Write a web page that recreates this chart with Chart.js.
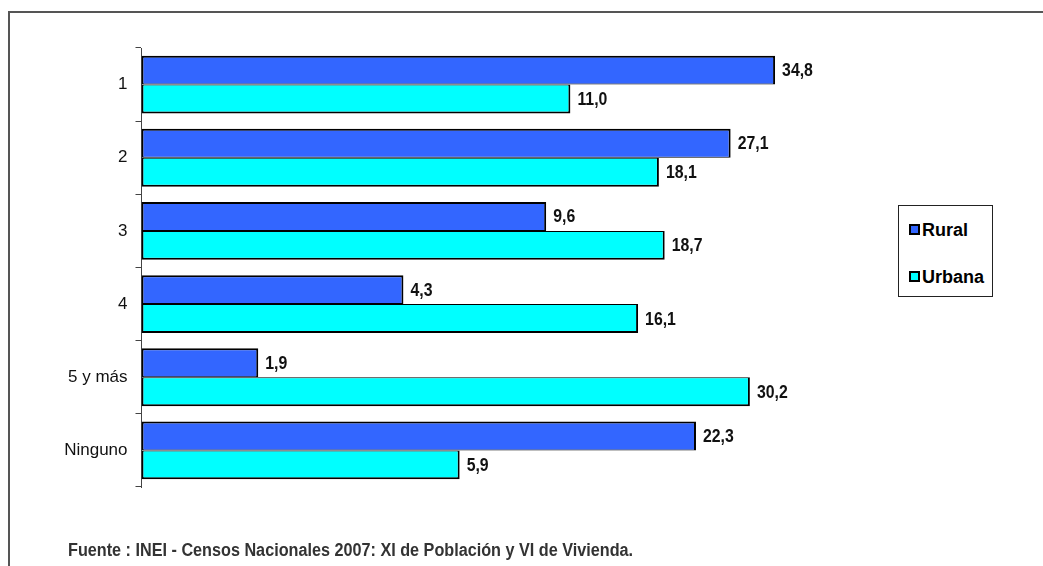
<!DOCTYPE html>
<html><head><meta charset="utf-8">
<script src="https://cdn.jsdelivr.net/npm/chart.js@4.4.1/dist/chart.umd.min.js"></script>
<style>
html,body{margin:0;padding:0;background:#fff;}
#wrap{position:relative;width:1043px;height:566px;overflow:hidden;background:#fff;}
#frame{position:absolute;left:8px;top:11px;width:1100px;height:600px;border-top:2px solid #555;border-left:2px solid #555;}
#c{position:absolute;left:0;top:0;}
#legend{position:absolute;left:898px;top:205px;width:95px;height:92px;border:1px solid #222;box-sizing:border-box;background:#fff;
  font:bold 18px 'Liberation Sans',Arial,sans-serif;color:#000;}
.li{position:absolute;left:10px;height:20px;line-height:20px;white-space:nowrap;}
.mk{display:inline-block;width:7px;height:7px;border:2px solid #000;vertical-align:middle;margin-right:2px;position:relative;top:-2px;}
#src{position:absolute;left:68px;top:540px;font:bold 18px 'Liberation Sans',Arial,sans-serif;color:#333;white-space:nowrap;transform:scaleX(0.9);transform-origin:0 0;}
</style>
</head><body>
<div id="wrap">
  <div id="frame"></div>
  <canvas id="c" width="1043" height="566"></canvas>
  <div id="legend"></div>
  <div id="src">Fuente : INEI - Censos Nacionales 2007: XI de Población y VI de Vivienda.</div>
</div>
<script>
const categories = ['1', '2', '3', '4', '5 y más', 'Ninguno'];
const seriesNames = ['Rural', 'Urbana'];
const rural = [34.8, 27.1, 9.6, 4.3, 1.9, 22.3];
const urbana = [11.0, 18.1, 18.7, 16.1, 30.2, 5.9];
const seriesColors = ['#3366FF', '#00FFFF'];

const valueLabels = {
  id: 'valueLabels',
  afterDatasetsDraw(chart) {
    const ctx = chart.ctx;
    chart.data.datasets.forEach((ds, di) => {
      const meta = chart.getDatasetMeta(di);
      meta.data.forEach((el, i) => {
        const txt = ds.data[i].toFixed(1).replace('.', ',');
        ctx.save();
        ctx.font = "bold 18px 'Liberation Sans',Arial,sans-serif";
        ctx.fillStyle = '#111';
        ctx.textAlign = 'left';
        ctx.textBaseline = 'middle';
        ctx.translate(el.x + 7, el.y + 1);
        ctx.scale(0.88, 1);
        ctx.fillText(txt, 0, 0);
        ctx.restore();
      });
    });
  }
};

new Chart(document.getElementById('c'), {
  type: 'bar',
  data: {
    labels: categories,
    datasets: [
      { label: seriesNames[0], data: rural, backgroundColor: seriesColors[0], borderColor: '#000',
        borderWidth: {top: 2, left: 2, right: 2, bottom: 1}, borderSkipped: false },
      { label: seriesNames[1], data: urbana, backgroundColor: seriesColors[1], borderColor: '#000',
        borderWidth: {top: 1, left: 2, right: 2, bottom: 2}, borderSkipped: false }
    ]
  },
  options: {
    indexAxis: 'y',
    responsive: false,
    animation: false,
    devicePixelRatio: 1,
    layout: { padding: { top: 48, bottom: 79, left: 0, right: 203.5 } },
    datasets: { bar: { categoryPercentage: 0.79, barPercentage: 1.0 } },
    plugins: { legend: { display: false }, tooltip: { enabled: false } },
    scales: {
      x: { type: 'logarithmic', min: 0.985, max: 50, display: false },
      y: {
        type: 'category',
        offset: true,
        grid: { offset: true, drawOnChartArea: false, drawTicks: true, tickLength: 6, color: '#444', lineWidth: 1 },
        border: { display: true, color: '#444', width: 1 },
        ticks: { padding: 8, color: '#111', font: { family: "'Liberation Sans',Arial,sans-serif", size: 17 } },
        afterFit(s) { s.width = 141.5; }
      }
    }
  },
  plugins: [valueLabels]
});

const lg = document.getElementById('legend');
seriesNames.forEach((n, i) => {
  const d = document.createElement('div');
  d.className = 'li';
  d.style.top = (i === 0 ? 14 : 61) + 'px';
  d.innerHTML = '<span class="mk" style="background:' + seriesColors[i] + '"></span>' + n;
  lg.appendChild(d);
});
</script>
</body></html>
